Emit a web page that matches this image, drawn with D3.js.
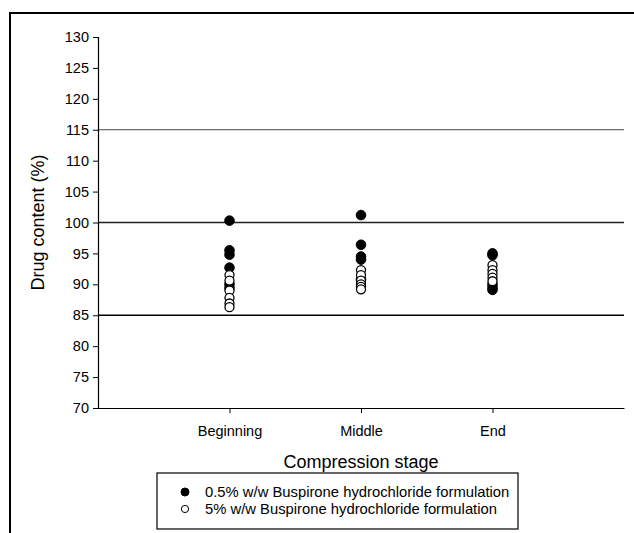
<!DOCTYPE html>
<html>
<head>
<meta charset="utf-8">
<script src="https://cdn.jsdelivr.net/npm/d3@7"></script>
<style>
  body { margin: 0; background: #fff; }
  svg { font-family: "Liberation Sans", Arial, sans-serif; }
</style>
</head>
<body>
<div id="chart"></div>
<script>
// Drug content by compression stage, two formulations
const stages = ['Beginning', 'Middle', 'End'];
const yTicks = [70, 75, 80, 85, 90, 95, 100, 105, 110, 115, 120, 125, 130];
const refLines = [115, 100, 85];

// 0.5% w/w (filled)
const lowBeginning = [100.3, 95.5, 94.8, 92.7, 90.0, 89.4];
const lowMiddle = [101.2, 96.4, 94.5, 94.0, 90.8];
const lowEnd = [95.0, 94.7, 90.0, 89.5, 89.1];
// 5% w/w (open)
const highBeginning = [91.5, 90.6, 89.0, 87.8, 86.9, 86.3];
const highMiddle = [92.3, 91.5, 90.6, 90.0, 89.6, 89.2];
const highEnd = [93.1, 92.3, 91.7, 91.1, 90.5];

const legendLabels = ['0.5% w/w Buspirone hydrochloride formulation', '5% w/w Buspirone hydrochloride formulation'];

(function(){
  const width = 634, height = 533;
  const svg = d3.select('#chart').append('svg').attr('width', width).attr('height', height);

  // outer frame (only left and top visible)
  svg.append('path')
    .attr('d', 'M10,533 V13 H634')
    .attr('fill', 'none')
    .attr('stroke', '#000')
    .attr('stroke-width', 2);

  const x = d3.scaleLinear().domain([0, 4]).range([98, 624]);
  const y = d3.scaleLinear().domain([70, 130]).range([408, 37]);

  // reference lines
  svg.append('g').selectAll('line')
    .data(refLines)
    .enter().append('line')
    .attr('x1', x(0)).attr('x2', x(4))
    .attr('y1', d => y(d)).attr('y2', d => y(d))
    .attr('stroke', d => d === 85 ? '#000' : (d === 115 ? '#444' : '#222'))
    .attr('stroke-width', d => d === 115 ? 1.2 : 1.4);

  // y axis
  const yAxis = svg.append('g')
    .attr('transform', `translate(${x(0)},0)`)
    .call(d3.axisLeft(y).tickValues(yTicks).tickSize(5).tickPadding(4));
  yAxis.select('.domain').attr('stroke-width', 1.2);
  yAxis.selectAll('text').style('font-size', '14.5px').attr('fill', '#000');

  // x axis
  const xAxis = svg.append('g')
    .attr('transform', `translate(0,${y(70)})`)
    .call(d3.axisBottom(x).tickValues([1, 2, 3]).tickSize(5).tickSizeOuter(0).tickPadding(13)
      .tickFormat(d => stages[d - 1]));
  xAxis.select('.domain').attr('stroke-width', 1.2);
  xAxis.selectAll('text').style('font-size', '14.5px').attr('fill', '#000');

  // axis titles
  svg.append('text')
    .attr('transform', `translate(44,${y(100)}) rotate(-90)`)
    .attr('text-anchor', 'middle')
    .style('font-size', '18px')
    .text('Drug content (%)');

  svg.append('text')
    .attr('x', x(2)).attr('y', 468)
    .attr('text-anchor', 'middle')
    .style('font-size', '18px')
    .text('Compression stage');

  // points
  const low = [lowBeginning, lowMiddle, lowEnd]
    .flatMap((vals, i) => vals.map(v => ({ stage: i + 1, value: v })));
  const high = [highBeginning, highMiddle, highEnd]
    .flatMap((vals, i) => vals.map(v => ({ stage: i + 1, value: v })));

  svg.append('g').selectAll('circle')
    .data(low)
    .enter().append('circle')
    .attr('cx', d => x(d.stage))
    .attr('cy', d => y(d.value))
    .attr('r', 4.8)
    .attr('fill', '#000')
    .attr('stroke', '#000')
    .attr('stroke-width', 1);

  svg.append('g').selectAll('circle')
    .data(high)
    .enter().append('circle')
    .attr('cx', d => x(d.stage))
    .attr('cy', d => y(d.value))
    .attr('r', 4.5)
    .attr('fill', '#fff')
    .attr('stroke', '#000')
    .attr('stroke-width', 1.3);

  // legend
  const legend = svg.append('g').attr('transform', 'translate(157,473)');
  legend.append('rect')
    .attr('width', 361).attr('height', 56)
    .attr('fill', '#fff')
    .attr('stroke', '#000')
    .attr('stroke-width', 1.2);

  const item = legend.selectAll('.item')
    .data(legendLabels)
    .enter().append('g')
    .attr('class', 'item')
    .attr('transform', (d, i) => `translate(0,${19 + i * 17})`);

  item.append('circle')
    .attr('cx', 28).attr('cy', 0)
    .attr('r', (d, i) => i === 0 ? 4 : 3.6)
    .attr('fill', (d, i) => i === 0 ? '#000' : '#fff')
    .attr('stroke', '#000')
    .attr('stroke-width', 1);

  item.append('text')
    .attr('x', 48).attr('dy', '0.35em')
    .style('font-size', '14.8px')
    .text(d => d);
})();
</script>
</body>
</html>
